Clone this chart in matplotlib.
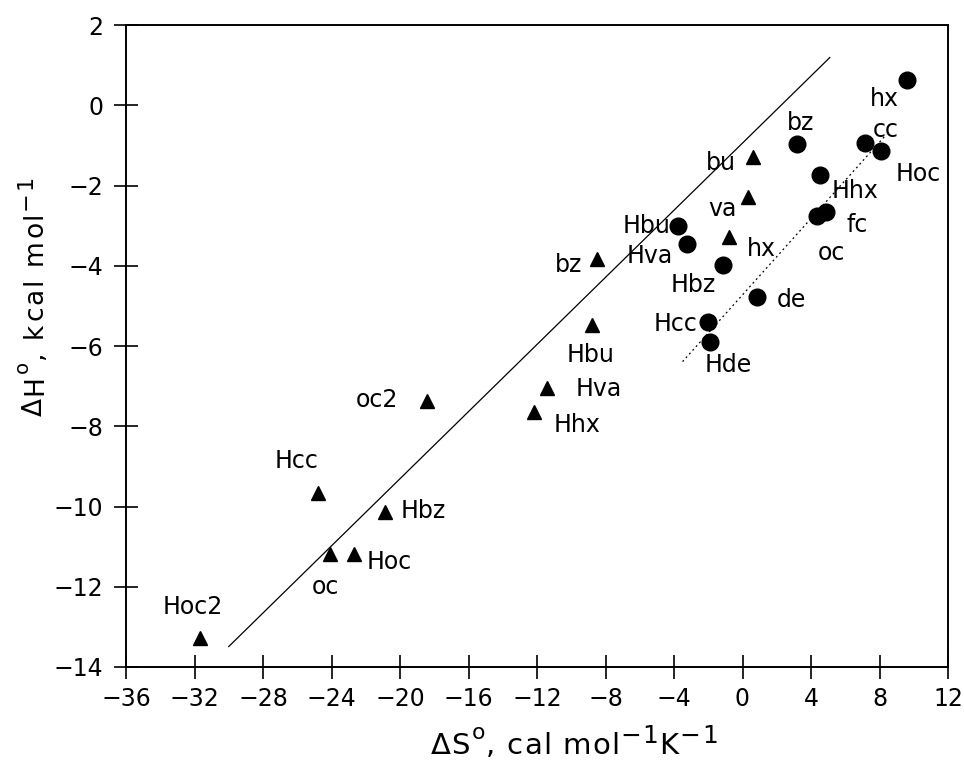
import matplotlib
matplotlib.use("Agg")
import matplotlib.pyplot as plt
from matplotlib.font_manager import FontProperties, findfont, get_font

# Triangles (series 1)
tri_labels = ["Hoc2", "Hcc", "oc2", "Hbz", "oc", "Hoc", "Hva", "Hhx", "bz", "Hbu", "hx", "va", "bu"]
tri_x = [-31.7, -24.8, -18.4, -20.9, -24.1, -22.7, -11.4, -12.2, -8.5, -8.8, -0.8, 0.35, 0.64]
tri_y = [-13.28, -9.67, -7.36, -10.13, -11.18, -11.18, -7.05, -7.65, -3.83, -5.47, -3.28, -2.29, -1.29]
tri_off = [(-7, -31), (-21, -32), (-50, -1), (39, -1), (-4, 33), (35, 8), (51, 1), (43, 13),
           (-28, 6), (-1, 30), (33, 12), (-26, 12), (-33, 6)]

# Circles (series 2)
cir_labels = ["Hbu", "Hva", "Hbz", "de", "Hcc", "Hde", "hx", "bz", "cc", "Hoc", "Hhx", "oc", "fc"]
cir_x = [-3.74, -3.25, -1.11, 0.84, -1.99, -1.89, 9.6, 3.21, 7.17, 8.1, 4.5, 4.34, 4.89]
cir_y = [-3.02, -3.46, -3.98, -4.78, -5.4, -5.89, 0.64, -0.96, -0.94, -1.15, -1.75, -2.75, -2.66]
cir_off = [(-32, 0), (-37, 12), (-30, 20), (35, 3), (-33, 2), (18, 23), (-23, 19), (3, -21),
           (20, -13), (37, 23), (35, 16), (15, 37), (31, 13)]

# Fit lines (endpoints)
fit1_x = [-30.0, 5.1]
fit1_y = [-13.49, 1.19]
fit2_x = [-3.5, 8.4]
fit2_y = [-6.39, -0.73]

xticks = list(range(-36, 13, 4))
yticks = list(range(-14, 3, 2))

W, H = 964, 764
fig = plt.figure(figsize=(W / 100, H / 100), dpi=100)
ax = fig.add_axes([126 / W, 1 - 667 / H, (948 - 126) / W, (667 - 25) / H])
font = "DejaVu Sans"

ax.plot(fit1_x, fit1_y, color="black", lw=0.9)
ax.plot(fit2_x, fit2_y, color="black", lw=0.9, ls=(0, (1.5, 2.5)))
ax.plot(tri_x, tri_y, ls="none", marker="^", ms=10.5, color="black")
ax.plot(cir_x, cir_y, ls="none", marker="o", ms=12, color="black")

for lab, x, y, off in zip(tri_labels + cir_labels, tri_x + cir_x, tri_y + cir_y, tri_off + cir_off):
    ax.annotate(lab, (x, y), xytext=(off[0], -off[1]), textcoords="offset pixels",
                ha="center", va="center", fontsize=17, family=font)

ax.set_xlim(-36, 12)
ax.set_ylim(-14, 2)
ax.set_xticks(xticks)
ax.set_yticks(yticks)
ax.set_xticklabels([("\u2212%d" % -t) if t < 0 else str(t) for t in xticks], family=font)
ax.set_yticklabels([("\u2212%d" % -t) if t < 0 else str(t) for t in yticks], family=font)
ax.tick_params(direction="inout", length=17, width=1.2, labelsize=17,
               top=False, right=False)
ax.tick_params(axis="x", pad=6)
ax.tick_params(axis="y", pad=8)
for s in ax.spines.values():
    s.set_linewidth(1.4)

# Axis labels built character by character (large raised superscripts)
ftf = get_font(findfont(FontProperties(family=font)))


def adv(ch, size):
    ftf.set_size(size, 100)
    g = ftf.load_char(ord(ch))
    return g.linearHoriAdvance / 65536.0


def rich_label(parts, cx, cy, size, track, vertical=False):
    items = []
    for txt, rs, rz in parts:
        for ch in txt:
            items.append((ch, size * rs, rz, adv(ch, size * rs)))
    total = sum(a + track for _, _, _, a in items) - track
    pos = -total / 2.0
    for ch, sz, rz, a in items:
        if ch != " ":
            if not vertical:
                px, py = cx + pos, H - cy + rz
                fig.text(px / W, py / H, ch, fontsize=sz, family=font,
                         ha="left", va="baseline")
            else:
                px, py = cx - rz, H - cy + pos
                fig.text(px / W, py / H, ch, fontsize=sz, family=font,
                         ha="left", va="baseline", rotation=90, rotation_mode="anchor")
        pos += a + track


xparts = [("\u0394S", 1.0, 0), ("o", 0.75, 15), (", cal mol", 1.0, 0), ("\u22121", 0.85, 11),
          ("K", 1.0, 0), ("\u22121", 0.85, 11)]
rich_label(xparts, 574, 754, 21, 1.2)

yparts = [("\u0394H", 1.0, 0), ("o", 0.75, 14), (", kcal mol", 1.0, 0), ("\u22121", 0.85, 10)]
rich_label(yparts, 42, 295, 19, 2.2, vertical=True)

fig.savefig("out.png", dpi=100)
